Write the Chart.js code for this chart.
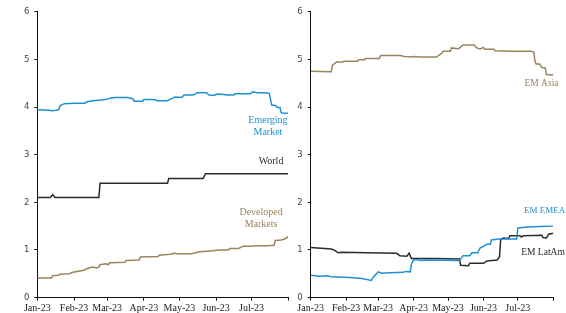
<!DOCTYPE html>
<html>
<head>
<meta charset="utf-8">
<script src="https://cdn.jsdelivr.net/npm/chart.js@4.4.1/dist/chart.umd.min.js"></script>
<style>
  html, body { margin: 0; padding: 0; background: #fff; width: 566px; height: 313px; overflow: hidden; }
  .box { position: absolute; top: 0; height: 313px; }
  #leftBox { left: 0; width: 292px; }
  #rightBox { left: 292px; width: 274px; }
</style>
</head>
<body>
<div id="leftBox" class="box"><canvas id="left"></canvas></div>
<div id="rightBox" class="box"><canvas id="right"></canvas></div>
<script>
// ---- tick labels (days since 1 Jan 2023 at month starts) ----
const tickDays = [0, 31, 59, 90, 120, 151, 181, 212];
const tickLabels = ['Jan-23', 'Feb-23', 'Mar-23', 'Apr-23', 'May-23', 'Jun-23', 'Jul-23', ''];

// ---- left panel ----
const emDays = [0, 10, 12, 16, 18, 19, 21, 23, 32, 40, 42, 47, 52, 56, 60, 62, 66, 76, 80, 81, 82, 89, 90, 95, 100, 101, 110, 112, 114, 116, 122, 124, 132, 135, 143, 145, 149, 152, 158, 160, 166, 167, 180, 182, 186, 194, 196, 198, 201, 203, 205, 206, 208, 212];
const emVals = [3.94, 3.93, 3.92, 3.93, 3.94, 4.02, 4.05, 4.07, 4.08, 4.08, 4.11, 4.13, 4.14, 4.15, 4.17, 4.19, 4.20, 4.20, 4.18, 4.16, 4.12, 4.12, 4.16, 4.16, 4.15, 4.13, 4.13, 4.16, 4.18, 4.21, 4.20, 4.25, 4.25, 4.30, 4.30, 4.25, 4.24, 4.27, 4.26, 4.25, 4.25, 4.28, 4.28, 4.32, 4.30, 4.30, 4.28, 4.04, 4.03, 3.99, 3.99, 3.88, 3.87, 3.87];

const worldDays = [0, 11, 13, 15, 52, 53, 110, 111, 140, 142, 212];
const worldVals = [2.10, 2.10, 2.16, 2.10, 2.10, 2.40, 2.40, 2.50, 2.50, 2.60, 2.60];

const dmDays = [0, 12, 13, 18, 19, 27, 30, 36, 40, 42, 47, 50, 52, 53, 58, 60, 61, 74, 75, 86, 87, 102, 103, 112, 116, 118, 130, 137, 146, 154, 161, 163, 170, 174, 180, 185, 194, 200, 201, 206, 209, 212];
const dmVals = [0.41, 0.41, 0.46, 0.47, 0.49, 0.50, 0.53, 0.56, 0.58, 0.61, 0.64, 0.62, 0.64, 0.69, 0.71, 0.69, 0.73, 0.74, 0.78, 0.79, 0.85, 0.86, 0.89, 0.91, 0.93, 0.92, 0.92, 0.96, 0.98, 1.00, 1.00, 1.03, 1.03, 1.08, 1.08, 1.09, 1.09, 1.10, 1.20, 1.21, 1.23, 1.28];

// ---- right panel ----
const asiaDays = [0, 18, 19, 23, 26, 30, 41, 42, 47, 48, 60, 61, 78, 82, 88, 90, 95, 110, 111, 114, 116, 122, 123, 127, 129, 132, 133, 143, 145, 148, 151, 152, 160, 161, 177, 193, 195, 196, 197, 200, 202, 205, 206, 212];
const asiaVals = [4.75, 4.74, 4.88, 4.95, 4.94, 4.96, 4.96, 4.99, 4.99, 5.02, 5.02, 5.08, 5.08, 5.06, 5.05, 5.06, 5.05, 5.05, 5.07, 5.12, 5.17, 5.17, 5.24, 5.23, 5.22, 5.28, 5.30, 5.30, 5.24, 5.22, 5.25, 5.21, 5.21, 5.18, 5.17, 5.17, 5.15, 4.96, 4.90, 4.90, 4.83, 4.82, 4.68, 4.67];

const emeaDays = [0, 8, 14, 18, 34, 45, 53, 55, 59, 62, 69, 81, 83, 87, 88, 90, 92, 96, 100, 130, 133, 139, 141, 146, 148, 152, 154, 157, 158, 164, 180, 181, 189, 200, 212];
const emeaVals = [0.47, 0.45, 0.46, 0.44, 0.42, 0.40, 0.36, 0.44, 0.54, 0.51, 0.52, 0.53, 0.55, 0.54, 0.70, 0.79, 0.80, 0.78, 0.79, 0.78, 0.88, 0.88, 0.94, 0.94, 1.04, 1.09, 1.12, 1.12, 1.21, 1.23, 1.23, 1.46, 1.48, 1.49, 1.50];

const latamDays = [0, 18, 21, 24, 27, 49, 75, 78, 84, 86, 88, 109, 130, 131, 138, 139, 151, 154, 163, 165, 166, 168, 173, 174, 183, 184, 186, 202, 203, 206, 208, 212];
const latamVals = [1.05, 1.02, 0.99, 0.94, 0.95, 0.94, 0.93, 0.88, 0.87, 0.93, 0.82, 0.82, 0.81, 0.68, 0.67, 0.72, 0.72, 0.77, 0.79, 0.86, 1.21, 1.25, 1.24, 1.30, 1.30, 1.27, 1.30, 1.31, 1.26, 1.25, 1.33, 1.35];

const BLUE = '#1f8fd6';
const TAN = '#9a835f';
const DARK = '#2b2b2b';

function pts(days, vals) { return days.map((d, i) => ({ x: d, y: vals[i] })); }

const seriesLabelPlugin = {
  id: 'seriesLabels',
  afterDatasetsDraw(chart, args, opts) {
    const ctx = chart.ctx;
    const xs = chart.scales.x, ys = chart.scales.y;
    ctx.save();
    ctx.textBaseline = 'middle';
    (opts.items || []).forEach(it => {
      ctx.font = (it.size || 10) + 'px "Liberation Serif", "Times New Roman", serif';
      ctx.fillStyle = it.color;
      ctx.textAlign = it.align || 'center';
      const px = xs.getPixelForValue(it.x);
      const py = ys.getPixelForValue(it.y);
      it.lines.forEach((t, k) => ctx.fillText(t, px, py + k * 11.5));
    });
    ctx.restore();
  }
};

function makeChart(id, datasets, yWidth, rightPad, labels) {
  return new Chart(document.getElementById(id), {
    type: 'line',
    data: { datasets },
    plugins: [seriesLabelPlugin],
    options: {
      responsive: true,
      maintainAspectRatio: false,
      animation: false,
      events: [],
      layout: { padding: { top: 11.7, right: rightPad, left: 0, bottom: 0 } },
      elements: { point: { radius: 0 }, line: { borderWidth: 1.5, tension: 0 } },
      plugins: {
        legend: { display: false },
        tooltip: { enabled: false },
        seriesLabels: { items: labels }
      },
      scales: {
        x: {
          type: 'linear',
          min: tickDays[0],
          max: tickDays[tickDays.length - 1],
          afterBuildTicks: s => { s.ticks = tickDays.map(v => ({ value: v })); },
          afterFit: s => { s.height = 15.4; },
          grid: { display: true, drawOnChartArea: false, drawTicks: true, tickLength: 3, color: '#111', lineWidth: 1 },
          border: { display: true, color: '#111', width: 1 },
          ticks: {
            autoSkip: false, maxRotation: 0, padding: 2.5,
            color: '#222',
            font: { family: '"Liberation Serif", "Times New Roman", serif', size: 10, lineHeight: 1 },
            callback: (v) => { const i = tickDays.indexOf(v); return i >= 0 ? tickLabels[i] : ''; }
          }
        },
        y: {
          min: 0, max: 6,
          afterFit: s => { s.width = yWidth; },
          grid: { display: true, drawOnChartArea: false, drawTicks: true, tickLength: 3, color: '#111', lineWidth: 1 },
          border: { display: true, color: '#111', width: 1 },
          ticks: {
            stepSize: 1, padding: 5, color: '#444',
            font: { family: '"DejaVu Sans", sans-serif', size: 8.5 }
          }
        }
      }
    }
  });
}

makeChart('left', [
  { data: pts(emDays, emVals), borderColor: BLUE },
  { data: pts(worldDays, worldVals), borderColor: DARK },
  { data: pts(dmDays, dmVals), borderColor: TAN }
], 37.3, 3.7, [
  { lines: ['Emerging', 'Market'], x: 194.8, y: 3.71, color: BLUE },
  { lines: ['World'], x: 197.4, y: 2.855, color: DARK },
  { lines: ['Developed', 'Markets'], x: 189, y: 1.78, color: TAN }
]);

makeChart('right', [
  { data: pts(asiaDays, asiaVals), borderColor: TAN },
  { data: pts(emeaDays, emeaVals), borderColor: BLUE },
  { data: pts(latamDays, latamVals), borderColor: DARK }
], 18.7, 12.7, [
  { lines: ['EM Asia'], x: 201.7, y: 4.50, color: TAN, size: 9.5 },
  { lines: ['EM EMEA'], x: 204.4, y: 1.82, color: BLUE, size: 9 },
  { lines: ['EM LatAm'], x: 203, y: 0.94, color: DARK, size: 9.5 }
]);
</script>
</body>
</html>
